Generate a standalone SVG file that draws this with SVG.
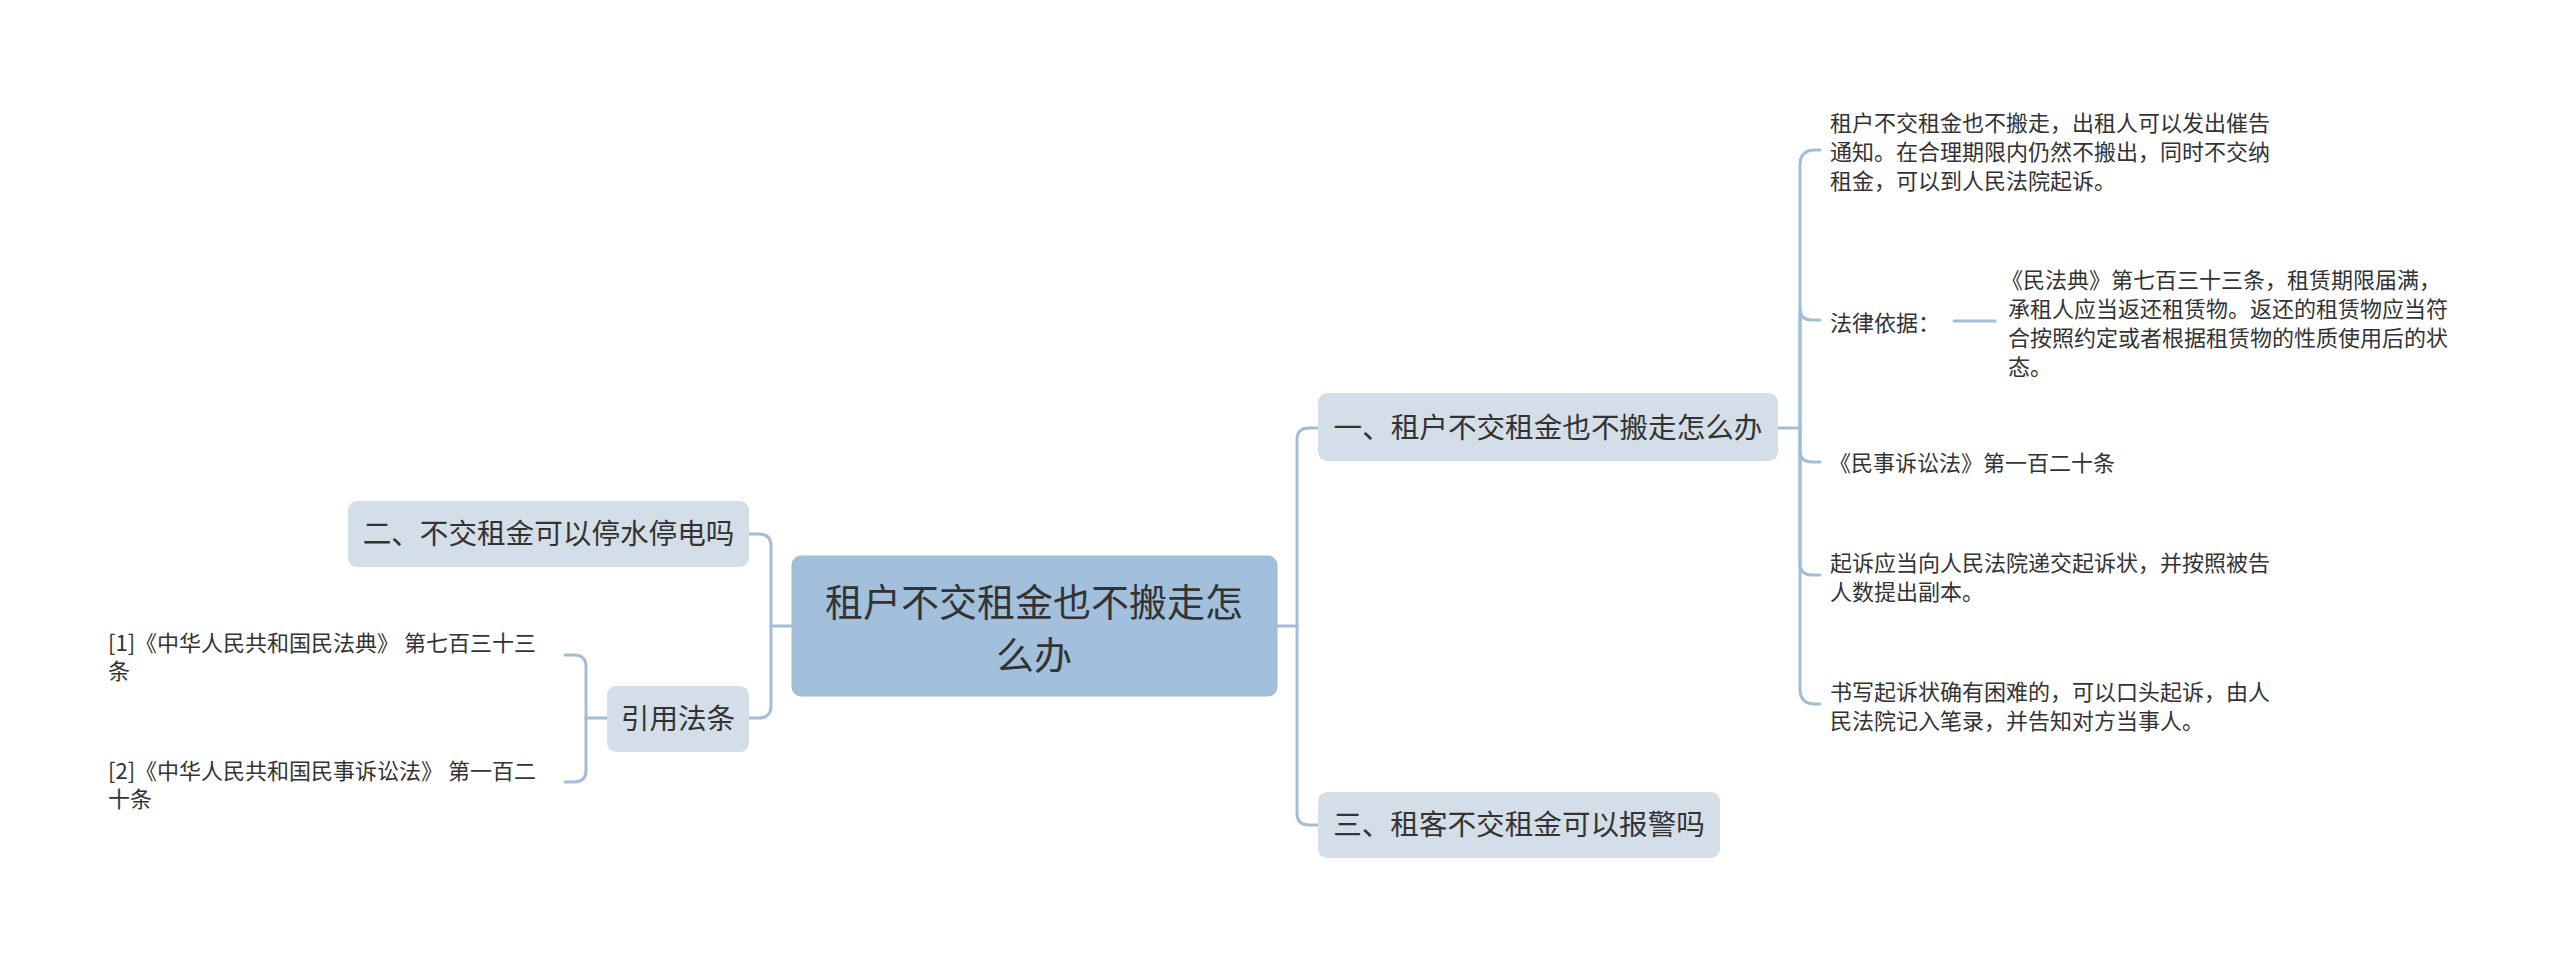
<svg xmlns="http://www.w3.org/2000/svg" width="2560" height="955" viewBox="0 0 2560 955">
<style>
.t{font-family:"Noto Sans CJK SC","Noto Sans",sans-serif;fill:#333333}
.root{fill:#a2bfdc;stroke:#9dbad8;stroke-width:1}
.sub{fill:#d3dee8}
.c{fill:none;stroke:#a3bdd8;stroke-width:3;stroke-linecap:round}
.n{font-size:28.6px}
.l{font-size:22px}
</style>
<rect width="2560" height="955" fill="#ffffff"/>
<g id="connectors">
<path class="c" d="M1277 626 H1297"/>
<path class="c" d="M1297 626 V440 Q1297 428 1309 428 H1318"/>
<path class="c" d="M1297 626 V813 Q1297 825 1309 825 H1318"/>
<path class="c" d="M792 626 H771"/>
<path class="c" d="M771 626 V546 Q771 534 759 534 H749"/>
<path class="c" d="M771 626 V706 Q771 718 759 718 H749"/>
<path class="c" d="M607 718 H586"/>
<path class="c" d="M586 718 V667 Q586 655 574 655 H565"/>
<path class="c" d="M586 718 V770 Q586 782 574 782 H565"/>
<path class="c" d="M1778 428 H1800"/>
<path class="c" d="M1800 428 V165 Q1800 150 1815 150 H1820"/>
<path class="c" d="M1800 428 V308 Q1800 320 1812 320 H1820"/>
<path class="c" d="M1800 428 V450 Q1800 462 1812 462 H1820"/>
<path class="c" d="M1800 428 V563 Q1800 575 1812 575 H1820"/>
<path class="c" d="M1800 428 V689 Q1800 704 1815 704 H1820"/>
<path class="c" d="M1954 321 H1995"/>
</g>
<g id="root">
<rect class="root" x="792" y="556" width="485" height="140" rx="9"/>
<text class="t" font-size="38" text-anchor="middle" x="1034" y="616">租户不交租金也不搬走怎</text>
<text class="t" font-size="38" text-anchor="middle" x="1034" y="669">么办</text>
</g>
<g id="n1">
<rect class="sub" x="1318" y="393" width="460" height="68" rx="9"/>
<text class="t n" text-anchor="middle" x="1548" y="438">一、租户不交租金也不搬走怎么办</text>
</g>
<g id="n3">
<rect class="sub" x="1318" y="792" width="402" height="66" rx="9"/>
<text class="t n" text-anchor="middle" x="1519" y="835">三、租客不交租金可以报警吗</text>
</g>
<g id="n2">
<rect class="sub" x="348" y="501" width="401" height="66" rx="9"/>
<text class="t n" text-anchor="middle" x="548.5" y="544">二、不交租金可以停水停电吗</text>
</g>
<g id="nref">
<rect class="sub" x="607" y="686" width="142" height="66" rx="9"/>
<text class="t n" text-anchor="middle" x="678" y="729">引用法条</text>
</g>
<g id="ref1">
<text class="t l" x="108" y="651">[1]《中华人民共和国民法典》  第七百三十三</text>
<text class="t l" x="108" y="679">条</text>
</g>
<g id="ref2">
<text class="t l" x="108" y="779">[2]《中华人民共和国民事诉讼法》  第一百二</text>
<text class="t l" x="108" y="807">十条</text>
</g>
<g id="leaf1">
<text class="t l" x="1830" y="131">租户不交租金也不搬走，出租人可以发出催告</text>
<text class="t l" x="1830" y="160">通知。在合理期限内仍然不搬出，同时不交纳</text>
<text class="t l" x="1830" y="189">租金，可以到人民法院起诉。</text>
</g>
<g id="leaf2">
<text class="t l" x="1830" y="331">法律依据：</text>
</g>
<g id="leaf2a">
<text class="t l" x="2001" y="288">《民法典》第七百三十三条，租赁期限届满，</text>
<text class="t l" x="2008" y="317">承租人应当返还租赁物。返还的租赁物应当符</text>
<text class="t l" x="2008" y="346">合按照约定或者根据租赁物的性质使用后的状</text>
<text class="t l" x="2008" y="375">态。</text>
</g>
<g id="leaf3">
<text class="t l" x="1829" y="471">《民事诉讼法》第一百二十条</text>
</g>
<g id="leaf4">
<text class="t l" x="1830" y="571">起诉应当向人民法院递交起诉状，并按照被告</text>
<text class="t l" x="1830" y="600">人数提出副本。</text>
</g>
<g id="leaf5">
<text class="t l" x="1830" y="700">书写起诉状确有困难的，可以口头起诉，由人</text>
<text class="t l" x="1830" y="729">民法院记入笔录，并告知对方当事人。</text>
</g>
</svg>
